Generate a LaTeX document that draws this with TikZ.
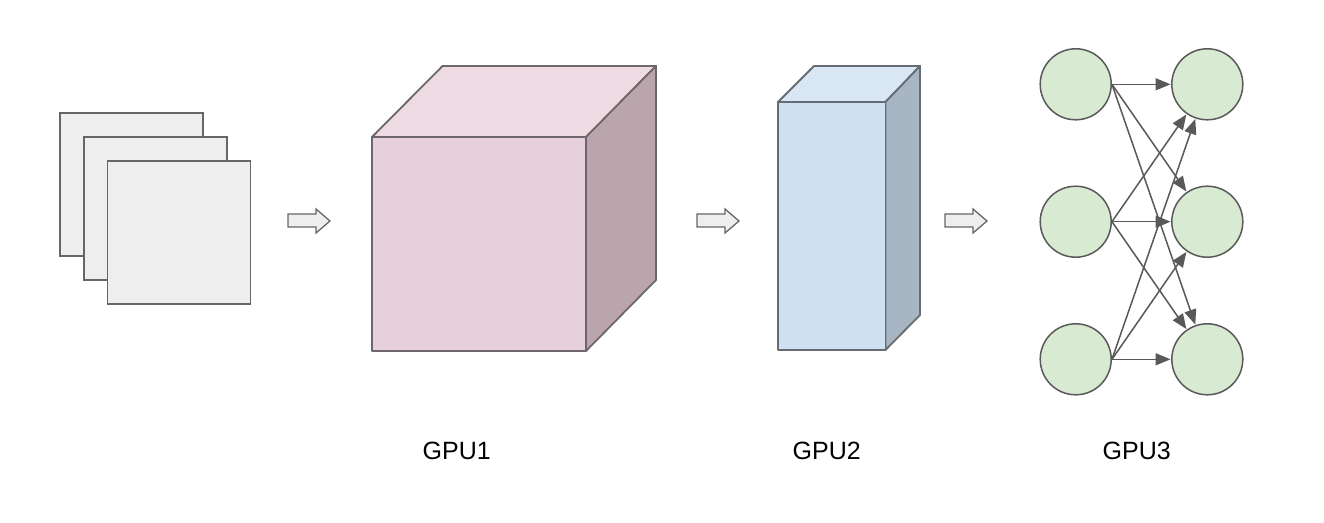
\documentclass[tikz,border=0pt]{standalone}
\usepackage{fontspec}
\setmainfont{Liberation Sans}
\usetikzlibrary{arrows.meta}
\definecolor{sheetfill}{HTML}{EEEEEE}
\definecolor{sheetline}{HTML}{666666}
\definecolor{pinkfront}{HTML}{E6D0DB}
\definecolor{pinktop}{HTML}{EDDAE2}
\definecolor{pinkside}{HTML}{BAA5AD}
\definecolor{pinkline}{HTML}{6E6769}
\definecolor{bluefront}{HTML}{CFE0F0}
\definecolor{bluetop}{HTML}{D9E6F3}
\definecolor{blueside}{HTML}{A8B6C4}
\definecolor{blueline}{HTML}{666C72}
\definecolor{neurfill}{HTML}{D9EAD3}
\definecolor{neurline}{HTML}{595959}
\tikzset{
  sheet/.style={draw=sheetline, fill=sheetfill, line width=1.8pt, minimum width=143pt, minimum height=143pt, inner sep=0pt},
  neuron/.style={circle, draw=neurline, fill=neurfill, line width=1.5pt, minimum size=71pt, inner sep=0pt},
  edge/.style={draw=neurline, line width=1.5pt, -{Triangle[length=15pt,width=12pt]}, shorten >=0.5pt},
  blockarrow/.style={draw=sheetline, fill=sheetfill, line width=1.3pt, line join=miter},
  lbl/.style={font=\fontsize{25}{30}\selectfont, inner sep=0pt, anchor=base},
  pinkface/.style={draw=pinkline, line width=1.8pt, line join=round},
  blueface/.style={draw=blueline, line width=1.8pt, line join=round}
}
\newcommand{\myblockarrow}[1]{%
  \path[blockarrow] (#1+0,214) -- (#1+28,214) -- (#1+28,209) -- (#1+42,221) -- (#1+28,233) -- (#1+28,227) -- (#1+0,227) -- cycle;}
\begin{document}
\begin{tikzpicture}[x=1pt,y=-1pt]
\useasboundingbox[fill=white] (0,0) rectangle (1324,522);
% stacked sheets
\node[sheet] (s1) at (131.3,184.3) {};
\node[sheet] (s2) at (155.3,208.5) {};
\node[sheet] (s3) at (179,232.2) {};
% block arrows
\myblockarrow{288}
\myblockarrow{697}
\myblockarrow{945}
% cube (GPU1)
\path[pinkface, fill=pinktop] (372,137) -- (442.5,66) -- (656,66) -- (586,137) -- cycle;
\path[pinkface, fill=pinkside] (586,137) -- (656,66) -- (656,280) -- (586,351) -- cycle;
\path[pinkface, fill=pinkfront] (372,137) rectangle (586,351);
% column (GPU2)
\path[blueface, fill=bluetop] (778,102) -- (814,66) -- (920,66) -- (885.5,102) -- cycle;
\path[blueface, fill=blueside] (885.5,102) -- (920,66) -- (920,315) -- (885.5,350) -- cycle;
\path[blueface, fill=bluefront] (778,102) rectangle (885.5,350);
% network (GPU3)
\node[neuron] (l1) at (1075.7,84.3) {};
\node[neuron] (l2) at (1075.7,221.7) {};
\node[neuron] (l3) at (1075.7,359.3) {};
\node[neuron] (r1) at (1207.3,84.3) {};
\node[neuron] (r2) at (1207.3,221.7) {};
\node[neuron] (r3) at (1207.3,359.3) {};
\foreach \a in {1,2,3}{
  \foreach \b in {1,2,3}{
    \draw[edge] (l\a.east) -- (r\b);
  }
}
% labels
\node[lbl] (g1) at (456.7,459.3) {GPU1};
\node[lbl] (g2) at (826.7,459.3) {GPU2};
\node[lbl] (g3) at (1136.7,459.3) {GPU3};
\end{tikzpicture}
\end{document}
